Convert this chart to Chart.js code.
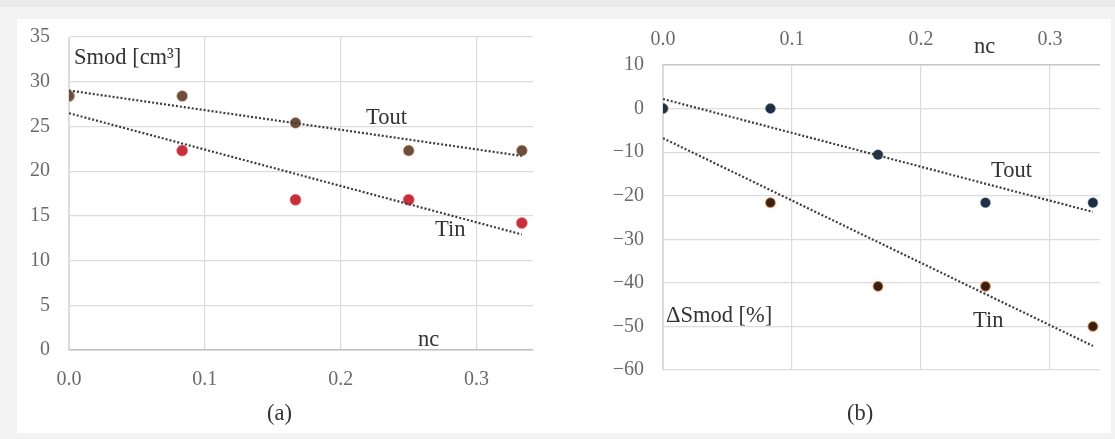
<!DOCTYPE html>
<html><head><meta charset="utf-8">
<script src="https://cdn.jsdelivr.net/npm/chart.js@4/dist/chart.umd.min.js"></script>
<style>
html,body{margin:0;padding:0;width:1115px;height:439px;overflow:hidden;background:#f3f3f3;}
#band{position:absolute;left:0;top:0;width:1115px;height:7px;background:#eaeaea;}
#panel{position:absolute;left:17px;top:19px;width:1094px;height:414px;background:#fff;}
canvas{position:absolute;top:0;}
.lbl{position:absolute;font-family:"Liberation Serif",serif;font-size:22.5px;color:#333;line-height:1;white-space:nowrap;transform:translateY(-50%);}
</style></head><body>
<div id="band"></div><div id="panel"></div>
<canvas id="ca" width="560" height="439" style="left:0"></canvas>
<canvas id="cb" width="555" height="439" style="left:560px"></canvas>
<div class="lbl" style="left:74px;top:57px">Smod [cm³]</div>
<div class="lbl" style="left:366px;top:117px">Tout</div>
<div class="lbl" style="left:435px;top:229px">Tin</div>
<div class="lbl" style="left:418px;top:339px">nc</div>
<div class="lbl" style="left:267px;top:413px">(a)</div>
<div class="lbl" style="left:974px;top:46px">nc</div>
<div class="lbl" style="left:991px;top:170px">Tout</div>
<div class="lbl" style="left:666px;top:315px">ΔSmod [%]</div>
<div class="lbl" style="left:973px;top:320px">Tin</div>
<div class="lbl" style="left:847px;top:413px">(b)</div>
<script>
// ---- data ----
const nc = [0, 0.0833, 0.1667, 0.25, 0.3333];
const smodTout = [28.4, 28.4, 25.4, 22.3, 22.3];
const smodTin = [28.4, 22.3, 16.8, 16.8, 14.2];
const dSmodTout = [0, 0, -10.6, -21.6, -21.6];
const dSmodTin = [0, -21.6, -40.8, -40.8, -50.0];
const xTicksA = [0, 0.1, 0.2, 0.3];
const yTicksA = [0, 5, 10, 15, 20, 25, 30, 35];
const yTicksB = [-60, -50, -40, -30, -20, -10, 0, 10];

// linear least-squares trendline (as in the original Excel trendlines)
function trend(xs, ys) {
  const n = xs.length;
  const mx = xs.reduce((a, b) => a + b, 0) / n;
  const my = ys.reduce((a, b) => a + b, 0) / n;
  let sxy = 0, sxx = 0;
  for (let i = 0; i < n; i++) { sxy += (xs[i] - mx) * (ys[i] - my); sxx += (xs[i] - mx) ** 2; }
  const k = sxy / sxx, b = my - k * mx;
  const x0 = xs[0], x1 = xs[n - 1];
  return [{x: x0, y: k * x0 + b}, {x: x1, y: k * x1 + b}];
}
const pts = (ys) => nc.map((x, i) => ({x, y: ys[i]}));

const tickFont = {family: 'Liberation Serif', size: 20};
const tickColor = '#6a6a6a';
const fmtMinus = v => (v < 0 ? '\u2212' + Math.abs(v) : '' + v);

function trendDs(data) {
  return {type: 'scatter', data, showLine: true, borderColor: '#3c3c3c', borderWidth: 2.2,
          borderDash: [2, 2], pointRadius: 0, fill: false, order: -1};
}

new Chart(document.getElementById('ca'), {
  type: 'scatter',
  data: {datasets: [
    {data: pts(smodTout), pointRadius: 5.5, backgroundColor: '#6b4f3e',
     borderColor: 'rgba(240,185,150,0.7)', borderWidth: 1, order: 0},
    {data: pts(smodTin), pointRadius: 5.5, backgroundColor: '#c62f3b',
     borderColor: 'rgba(230,120,120,0.6)', borderWidth: 1, order: 1},
    trendDs(trend(nc, smodTout)),
    trendDs(trend(nc, smodTin))
  ]},
  options: {
    responsive: false, animation: false,
    layout: {padding: {left: 0, right: 27, top: 37, bottom: 0}},
    plugins: {legend: {display: false}, tooltip: {enabled: false}},
    scales: {
      x: {type: 'linear', min: 0, max: 0.3415,
          afterFit(s) { s.height = 89; },
          afterBuildTicks(s) { s.ticks = xTicksA.map(v => ({value: v})); },
          ticks: {padding: 18, color: tickColor, font: tickFont, callback: v => v.toFixed(1)},
          grid: {color: '#dcdcdc', drawTicks: false, lineWidth: 1.2},
          border: {color: '#c0c0c0', width: 1.5}},
      y: {min: 0, max: 35,
          afterFit(s) { s.width = 69; },
          afterBuildTicks(s) { s.ticks = yTicksA.map(v => ({value: v})); },
          ticks: {padding: 19, color: tickColor, font: tickFont, callback: v => fmtMinus(v)},
          grid: {color: '#dcdcdc', drawTicks: false, lineWidth: 1.2},
          border: {color: '#dcdcdc'}}
    }
  }
});

new Chart(document.getElementById('cb'), {
  type: 'scatter',
  data: {datasets: [
    {data: pts(dSmodTout), pointRadius: 5, backgroundColor: '#1e2e45',
     borderColor: 'rgba(120,140,170,0.5)', borderWidth: 1, order: 0},
    {data: pts(dSmodTin), pointRadius: 5, backgroundColor: '#3a2014',
     borderColor: 'rgba(240,160,100,0.7)', borderWidth: 1.2, order: 1},
    trendDs(trend(nc, dSmodTout)),
    trendDs(trend(nc, dSmodTin))
  ]},
  options: {
    responsive: false, animation: false,
    layout: {padding: {left: 0, right: 15, top: 0, bottom: 69}},
    plugins: {legend: {display: false}, tooltip: {enabled: false}},
    scales: {
      x: {type: 'linear', position: 'top', min: 0, max: 0.3388,
          afterFit(s) { s.height = 65; },
          afterBuildTicks(s) { s.ticks = xTicksA.map(v => ({value: v})); },
          ticks: {padding: 13, color: tickColor, font: tickFont, callback: v => v.toFixed(1)},
          grid: {color: '#dcdcdc', drawTicks: false, lineWidth: 1.2},
          border: {color: '#c8c8c8', width: 1.5}},
      y: {min: -60, max: 10,
          afterFit(s) { s.width = 103; },
          afterBuildTicks(s) { s.ticks = yTicksB.map(v => ({value: v})); },
          ticks: {padding: 19, color: tickColor, font: tickFont, callback: v => fmtMinus(v)},
          grid: {color: '#dcdcdc', drawTicks: false, lineWidth: 1.2},
          border: {color: '#dcdcdc'}}
    }
  }
});
</script>
</body></html>
